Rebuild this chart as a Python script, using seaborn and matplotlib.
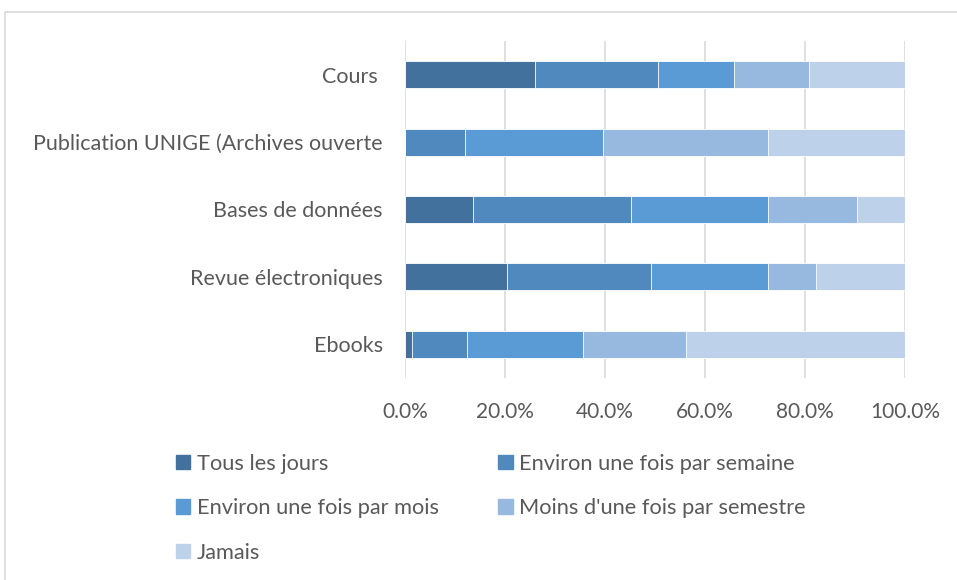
import matplotlib
matplotlib.use("Agg")
import matplotlib.pyplot as plt
import matplotlib.patches as mpatches
from matplotlib.ticker import FuncFormatter
import seaborn as sns
import pandas as pd
import numpy as np

categories = ["Cours ", "Publication UNIGE (Archives ouverte", "Bases de données",
              "Revue électroniques", "Ebooks"]
series_names = ["Tous les jours", "Environ une fois par semaine",
                "Environ une fois par mois", "Moins d'une fois par semestre", "Jamais"]
tous_les_jours = [25.9, 0.0, 13.5, 20.3, 1.3]
semaine = [24.6, 12.0, 31.7, 28.9, 11.0]
mois = [15.2, 27.5, 27.3, 23.3, 23.2]
moins_semestre = [15.1, 33.0, 17.9, 9.7, 20.6]
jamais = [19.2, 27.5, 9.6, 17.8, 43.9]
colors = ["#41719C", "#4F89BD", "#5B9BD5", "#97B9E0", "#BDD1EA"]

series = [tous_les_jours, semaine, mois, moins_semestre, jamais]

sns.set_theme(style="white")
plt.rcParams["font.family"] = ["Lato", "DejaVu Sans"]
text_color = "#595959"

fig = plt.figure(figsize=(9.57, 5.80), dpi=100)
ax = fig.add_axes([405 / 957, 1 - 378 / 580, 500 / 957, 337 / 580])

# stacked: draw cumulative sums from back to front
cum = np.cumsum(np.array(series), axis=0)
for i in range(len(series) - 1, -1, -1):
    df = pd.DataFrame({"cat": categories, "val": cum[i]})
    sns.barplot(data=df, x="val", y="cat", order=categories, color=colors[i],
                orient="h", width=0.4, ax=ax, edgecolor="white", linewidth=0.6,
                saturation=1)
handles = [mpatches.Patch(color=colors[i], label=series_names[i])
           for i in range(len(series))]
# legend fills column-wise; reorder so it reads row-wise
order = [0, 2, 4, 1, 3]
handles = [handles[i] for i in order]

ax.set_xlim(0, 100)
ax.set_xticks([0, 20, 40, 60, 80, 100])
ax.xaxis.set_major_formatter(FuncFormatter(lambda v, p: f"{v:.1f}%"))
ax.set_xlabel("")
ax.set_ylabel("")
ax.grid(axis="x", color="#D9D9D9", linewidth=1.2)
ax.set_axisbelow(True)
for s in ax.spines.values():
    s.set_visible(False)
ax.tick_params(axis="both", length=0, colors=text_color)
ax.tick_params(axis="y", pad=16, labelsize=15.5)
ax.tick_params(axis="x", pad=17, labelsize=15)

leg = fig.legend(handles=handles, ncol=2, loc="upper left",
                 bbox_to_anchor=(167.5 / 957, 1 - 445 / 580), frameon=False,
                 fontsize=15.7, handlelength=0.65, handleheight=0.65,
                 handletextpad=0.28, columnspacing=2.75, labelspacing=1.12,
                 borderaxespad=0)
for t in leg.get_texts():
    t.set_color(text_color)

# chart area border
fig.patches.append(mpatches.Rectangle((5 / 957, -0.05), 1.0, 1 - 12 / 580 + 0.05,
                                      transform=fig.transFigure, fill=False,
                                      edgecolor="#D9D9D9", linewidth=1.2))

fig.savefig("out.png", dpi=100)
